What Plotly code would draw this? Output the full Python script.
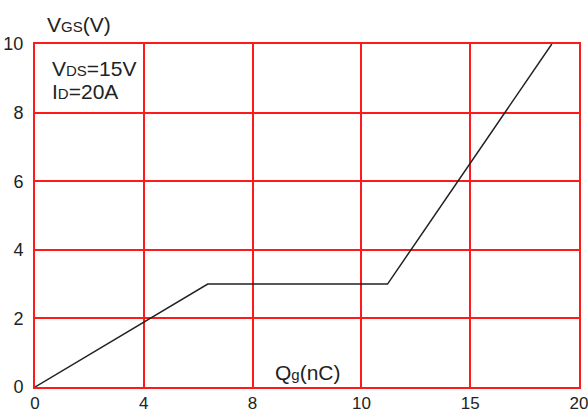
import numpy as np
import plotly.graph_objects as go

# Gate charge curve: Qg (nC) vs VGS (V)
qg_nc = [0, 6.35, 11.2, 18.75]
vgs_v = [0, 3, 3, 10]

# The Qg axis is drawn with evenly spaced divisions carrying these labels
x_tick_labels = [0, 4, 8, 10, 15, 20]
y_tick_values = [0, 2, 4, 6, 8, 10]

x_div = list(range(len(x_tick_labels)))
x_pos = np.interp(qg_nc, x_tick_labels, x_div)

FONT = "Liberation Sans, Arial, sans-serif"
RED = "#ff1a1a"
INK = "#222222"

fig = go.Figure()
fig.add_trace(go.Scatter(
    x=x_pos, y=vgs_v, mode="lines",
    line=dict(color=INK, width=1.5),
    showlegend=False, hoverinfo="skip",
))

fig.update_xaxes(
    range=[0, 5], tickvals=x_div, ticktext=[str(v) for v in x_tick_labels],
    showgrid=True, gridcolor=RED, gridwidth=2,
    showline=True, linecolor=RED, linewidth=2, mirror=True,
    zeroline=False, ticks="", ticklabelstandoff=0, automargin=False,
    ticklabeloverflow="allow",
    tickfont=dict(family=FONT, size=17, color=INK),
)
fig.update_yaxes(
    range=[0, 10], tickvals=y_tick_values,
    showgrid=True, gridcolor=RED, gridwidth=2,
    showline=True, linecolor=RED, linewidth=2, mirror=True,
    zeroline=False, ticks="", ticklabelstandoff=6, automargin=False,
    ticklabeloverflow="allow",
    tickfont=dict(family=FONT, size=18, color=INK),
)

label_font = dict(family=FONT, size=21, color=INK)
SMALL = "<span style='font-size:15px'>{}</span>"

annotations = [
    dict(text="V" + SMALL.format("GS") + "(V)", x=0.018, y=1.056,
         xref="paper", yref="paper", xanchor="left", yanchor="middle",
         showarrow=False, font=label_font),
    dict(text="V" + SMALL.format("DS") + "=15V", x=0.0276, y=0.930,
         xref="paper", yref="paper", xanchor="left", yanchor="middle",
         showarrow=False, font=label_font),
    dict(text="I" + SMALL.format("D") + "=20A", x=0.0276, y=0.8615,
         xref="paper", yref="paper", xanchor="left", yanchor="middle",
         showarrow=False, font=label_font),
    dict(text="Q" + SMALL.format("g") + "(nC)", x=0.501, y=0.041,
         xref="paper", yref="paper", xanchor="center", yanchor="middle",
         showarrow=False, font=label_font),
    dict(text="Figure 8. Gate Charge Characteristics", x=0.0055, y=1.0,
         xref="paper", yref="paper", xanchor="left", yanchor="bottom",
         yshift=42, showarrow=False, font=dict(family=FONT, size=18, color=INK)),
]

fig.update_layout(
    width=588, height=412,
    margin=dict(l=35, r=9, t=44, b=25),
    paper_bgcolor="white", plot_bgcolor="white",
    annotations=annotations,
)

fig.write_html("out.html")
